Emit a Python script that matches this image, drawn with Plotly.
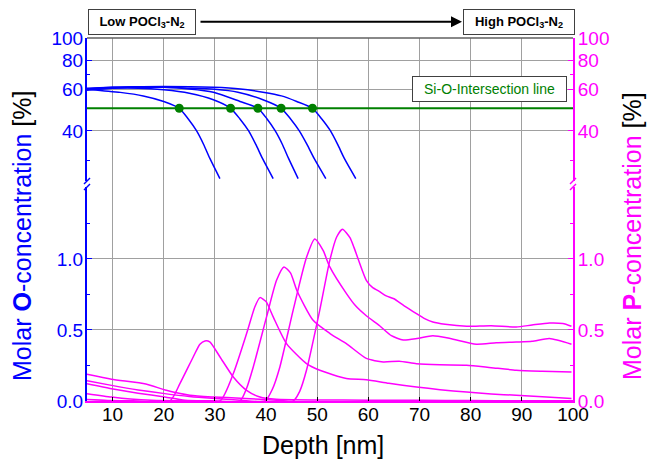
import math
import plotly.graph_objects as go

# ---------------- data ----------------
depth_ticks = [10, 20, 30, 40, 50, 60, 70, 80, 90, 100]
o_ticks = [40, 60, 80, 100]
o_minor = [30, 70]
p_ticks = [0.0, 0.5, 1.0]
p_tick_text = ["0.0", "0.5", "1.0"]
p_minor = [0.25, 0.75, 1.25]

# O profiles (top panel, %)
o1_x = [5, 8, 11.5, 16, 20, 23.03, 24.8, 26.43, 27.8, 29.02, 30.98]
o1_y = [60.5, 59.5, 58.5, 56.5, 53.5, 50, 45, 40, 35, 30.5, 25]
o2_x = [5, 10, 15, 20, 25, 29.7, 33.07, 34.9, 36.6, 38.0, 39.3, 41.39]
o2_y = [60.5, 61, 61, 60, 58, 54.4, 50, 45, 40, 35, 30.5, 25]
o3_x = [5, 10, 15, 20, 25, 29.7, 34.9, 38.4, 40.2, 41.8, 43.2, 44.4, 46.27]
o3_y = [59.8, 61, 61.5, 61.5, 60.5, 58.6, 53.5, 50, 45, 40, 35, 30.5, 25]
o4_x = [5, 10, 15, 24.7, 30, 34.5, 39.4, 42.95, 44.8, 46.5, 48.0, 49.4, 51.68]
o4_y = [60.5, 61.5, 61.8, 61, 60.3, 58.6, 54.4, 50, 45, 40, 35, 30.5, 25]
o5_x = [5, 10, 20, 29.7, 35, 39.4, 43, 46, 49.08, 50.9, 52.6, 54.0, 55.3, 57.54]
o5_y = [61, 61.5, 62, 61.5, 60.5, 58.6, 56.5, 53.5, 50, 45, 40, 35, 30.5, 25]

# Si-O intersection
si_o_level = 50
si_o_depths = [23.03, 33.07, 38.40, 42.95, 49.08]

# P profiles (bottom panel)
p1_x = [5, 9, 14, 21.2, 23.16, 25.76, 27.07, 28.05, 29.0, 31.0, 33.6, 36.2, 38.8, 42, 50, 60, 70, 80, 90, 100]
p1_y = [0.010, 0.004, 0.001, 0.0, 0.122, 0.31, 0.40, 0.423, 0.416, 0.31, 0.169, 0.075, 0.028, 0.012, 0.007, 0.006, 0.005, 0.003, 0.002, 0.002]
p2_x = [5, 9.8, 13.5, 17.6, 25, 31.0, 33.6, 36.2, 37.8, 38.8, 40.0, 41.4, 44.0, 47.9, 50.5, 55.7, 59.6, 64, 69.4, 74, 79.2, 84, 88.9, 94, 99.7]
p2_y = [0.052, 0.028, 0.014, 0.005, 0.001, 0.0, 0.193, 0.475, 0.662, 0.728, 0.70, 0.592, 0.404, 0.263, 0.216, 0.158, 0.150, 0.125, 0.099, 0.08, 0.063, 0.05, 0.04, 0.03, 0.017]
p3_x = [5, 9.8, 15, 20.2, 24.1, 30, 34.9, 36.2, 37.5, 40.1, 42.05, 43.5, 44.8, 46.0, 49.2, 52.5, 55.7, 59.6, 62.9, 66, 69.4, 74, 79.2, 84, 88.9, 94, 99.7]
p3_y = [0.122, 0.087, 0.055, 0.028, 0.005, 0.001, 0.0, 0.09, 0.24, 0.592, 0.85, 0.944, 0.90, 0.78, 0.568, 0.475, 0.404, 0.30, 0.275, 0.28, 0.263, 0.255, 0.252, 0.235, 0.217, 0.21, 0.205]
p4_x = [5, 9.8, 15, 20.2, 25, 29.4, 35, 39.8, 41.2, 42.7, 45.3, 47.9, 49.53, 51.15, 52.46, 55.72, 57.5, 59.6, 62.2, 64.5, 66.8, 69.5, 72.6, 76, 81.1, 85, 88.9, 92, 95.4, 99.7]
p4_y = [0.143, 0.11, 0.078, 0.052, 0.032, 0.019, 0.006, 0.0, 0.08, 0.24, 0.64, 1.01, 1.14, 1.06, 0.944, 0.756, 0.67, 0.60, 0.53, 0.46, 0.43, 0.44, 0.46, 0.44, 0.40, 0.41, 0.415, 0.42, 0.44, 0.40]
p5_x = [5, 9.8, 16.5, 20.5, 25.1, 29.7, 35, 38.8, 42, 45.3, 46.6, 47.9, 50.5, 52.46, 53.8, 54.94, 56.4, 57.2, 58.0, 59.6, 60.8, 62.2, 63.5, 65, 67, 69.4, 71, 72.6, 75, 79.2, 84, 88.9, 92, 95.4, 98, 99.7]
p5_y = [0.188, 0.153, 0.120, 0.075, 0.04, 0.028, 0.02, 0.012, 0.006, 0.0, 0.07, 0.216, 0.64, 0.99, 1.155, 1.21, 1.15, 1.08, 1.0, 0.85, 0.80, 0.77, 0.74, 0.72, 0.67, 0.615, 0.58, 0.556, 0.54, 0.526, 0.53, 0.521, 0.535, 0.549, 0.545, 0.526]

o_series = [(o1_x, o1_y), (o2_x, o2_y), (o3_x, o3_y), (o4_x, o4_y), (o5_x, o5_y)]
p_series = [(p1_x, p1_y), (p2_x, p2_y), (p3_x, p3_y), (p4_x, p4_y), (p5_x, p5_y)]

BLUE = "#0000ff"
MAG = "#ff00ff"
GREEN = "#008000"
GRID = "#a0a0a0"
FONT = "Liberation Sans, Arial, sans-serif"

W, H = 648, 472
ML, MR, MT, MB = 87, 75, 38, 71
plot_h = H - MT - MB
brk = (401 - 184) / plot_h  # paper y of the axis break

o_range = [math.log10(23.7), 2]
p_range = [0, 1.528]

fig = go.Figure()

for x, y in o_series:
    fig.add_trace(go.Scatter(x=x, y=y, mode="lines", xaxis="x", yaxis="y",
                             line=dict(color=BLUE, width=1.5, shape="spline", smoothing=0.7),
                             showlegend=False, hoverinfo="skip"))

fig.add_trace(go.Scatter(x=[5, 100], y=[si_o_level, si_o_level], mode="lines",
                         xaxis="x", yaxis="y", line=dict(color=GREEN, width=2),
                         showlegend=False, hoverinfo="skip"))
fig.add_trace(go.Scatter(x=si_o_depths, y=[si_o_level] * len(si_o_depths), mode="markers",
                         xaxis="x", yaxis="y", marker=dict(color=GREEN, size=9),
                         showlegend=False, hoverinfo="skip"))
# dummy for right top axis
fig.add_trace(go.Scatter(x=[None], y=[None], xaxis="x", yaxis="y3", showlegend=False))

for x, y in p_series:
    fig.add_trace(go.Scatter(x=x, y=y, mode="lines", xaxis="x", yaxis="y4",
                             line=dict(color=MAG, width=1.5, shape="spline", smoothing=0.6),
                             showlegend=False, hoverinfo="skip", cliponaxis=True))
fig.add_trace(go.Scatter(x=[None], y=[None], xaxis="x", yaxis="y2", showlegend=False))

tickfont_blue = dict(family=FONT, size=19, color=BLUE)
tickfont_mag = dict(family=FONT, size=19, color=MAG)

fig.update_layout(
    width=W, height=H, margin=dict(l=ML, r=MR, t=MT, b=MB),
    paper_bgcolor="white", plot_bgcolor="white",
    xaxis=dict(domain=[0, 1], range=[5, 100], anchor="y2", tickvals=depth_ticks,
               ticks="inside", ticklen=4, tickcolor="black", showgrid=True,
               gridcolor=GRID, gridwidth=1, showline=True, linecolor=MAG, linewidth=2,
               zeroline=False, ticklabelstandoff=-5,
               tickfont=dict(family=FONT, size=19, color="black")),
    yaxis=dict(domain=[brk, 1], type="log", range=o_range, anchor="x",
               tickvals=o_ticks, ticks="inside", ticklen=5, tickcolor=BLUE, tickwidth=1,
               showgrid=True, gridcolor=GRID, gridwidth=1, showline=True, linecolor=BLUE,
               linewidth=2, tickfont=tickfont_blue, zeroline=False, ticklabelstandoff=-2,
               minor=dict(tickvals=o_minor, ticks="inside", ticklen=3, tickcolor=BLUE, showgrid=False)),
    yaxis2=dict(domain=[0, brk], range=p_range, anchor="x",
                tickvals=p_ticks, ticktext=p_tick_text, ticks="inside", ticklen=5, tickcolor=BLUE,
                showgrid=True, gridcolor=GRID, gridwidth=1, showline=True, linecolor=BLUE,
                linewidth=2, tickfont=tickfont_blue, zeroline=False, ticklabelstandoff=-2,
                minor=dict(tickvals=p_minor, ticks="inside", ticklen=3, tickcolor=BLUE, showgrid=False)),
    yaxis3=dict(overlaying="y", side="right", anchor="x", type="log", range=o_range,
                tickvals=o_ticks, ticks="inside", ticklen=5, tickcolor=MAG, showgrid=False,
                showline=True, linecolor=MAG, linewidth=2, tickfont=tickfont_mag, zeroline=False,
                ticklabelstandoff=-1,
                minor=dict(tickvals=o_minor, ticks="inside", ticklen=3, tickcolor=MAG, showgrid=False)),
    yaxis4=dict(overlaying="y2", side="right", anchor="x", range=p_range,
                tickvals=p_ticks, ticktext=p_tick_text, ticks="inside", ticklen=5, tickcolor=MAG,
                showgrid=False, showline=True, linecolor=MAG, linewidth=2, tickfont=tickfont_mag,
                zeroline=False, ticklabelstandoff=-1,
                minor=dict(tickvals=p_minor, ticks="inside", ticklen=3, tickcolor=MAG, showgrid=False)),
)

shapes = [
    dict(type="line", xref="paper", yref="paper", x0=0, x1=1, y0=1, y1=1,
         line=dict(color="#606060", width=1.5)),
]
# axis break marks
for xa, col in [(0, BLUE), (1, MAG)]:
    shapes.append(dict(type="rect", xref="paper", yref="paper", xsizemode="pixel", ysizemode="pixel",
                       xanchor=xa, yanchor=brk, x0=-2, x1=2, y0=-3, y1=3,
                       fillcolor="white", line=dict(width=0)))
    for off in (-3, 3):
        shapes.append(dict(type="line", xref="paper", yref="paper", xsizemode="pixel", ysizemode="pixel",
                           xanchor=xa, yanchor=brk, x0=-3, x1=3, y0=off - 3, y1=off + 3,
                           line=dict(color=col, width=1.5)))
fig.update_layout(shapes=shapes)

def px_x(p):
    return (p - ML) / (W - ML - MR)

def px_y(p):
    return 1 - (p - MT) / plot_h

ann = [
    dict(text="<b>Low POCl<sub>3</sub>-N<sub>2</sub></b>", x=px_x(142), y=px_y(22.2),
         width=102, height=20, borderpad=2),
    dict(text="<b>High POCl<sub>3</sub>-N<sub>2</sub></b>", x=px_x(519), y=px_y(22.2),
         width=106, height=20, borderpad=2),
]
annotations = []
for a in ann:
    annotations.append(dict(text=a["text"], x=a["x"], y=a["y"], xref="paper", yref="paper",
                            xanchor="center", yanchor="middle", showarrow=False,
                            bordercolor="#404040", borderwidth=1, bgcolor="white",
                            width=a["width"], height=a["height"], borderpad=a["borderpad"],
                            font=dict(family=FONT, size=13, color="black")))
annotations.append(dict(text="", x=px_x(462), y=px_y(21.7), xref="paper", yref="paper",
                        showarrow=True, ax=-263, ay=0, arrowhead=2, arrowsize=1.1,
                        arrowwidth=2, arrowcolor="black"))
annotations.append(dict(text="Si-O-Intersection line", x=px_x(489), y=px_y(89.5),
                        xref="paper", yref="paper", xanchor="center", yanchor="middle",
                        showarrow=False, bordercolor="#404040", borderwidth=1, bgcolor="white",
                        width=149, height=20, borderpad=2,
                        font=dict(family=FONT, size=14, color=GREEN)))
annotations.append(dict(text="Molar <b>O</b>-concentration <span style='color:black'>[%]</span>",
                        x=px_x(22), y=px_y(236), xref="paper", yref="paper", textangle=-90,
                        xanchor="center", yanchor="middle", showarrow=False,
                        font=dict(family=FONT, size=25, color=BLUE)))
annotations.append(dict(text="Molar <b>P</b>-concentration <span style='color:black'>[%]</span>",
                        x=px_x(632), y=px_y(236), xref="paper", yref="paper", textangle=-90,
                        xanchor="center", yanchor="middle", showarrow=False,
                        font=dict(family=FONT, size=25, color=MAG)))
annotations.append(dict(text="Depth [nm]", x=px_x(323), y=px_y(445), xref="paper", yref="paper",
                        xanchor="center", yanchor="middle", showarrow=False,
                        font=dict(family=FONT, size=25, color="black")))
fig.update_layout(annotations=annotations)

fig.write_html("out.html")
